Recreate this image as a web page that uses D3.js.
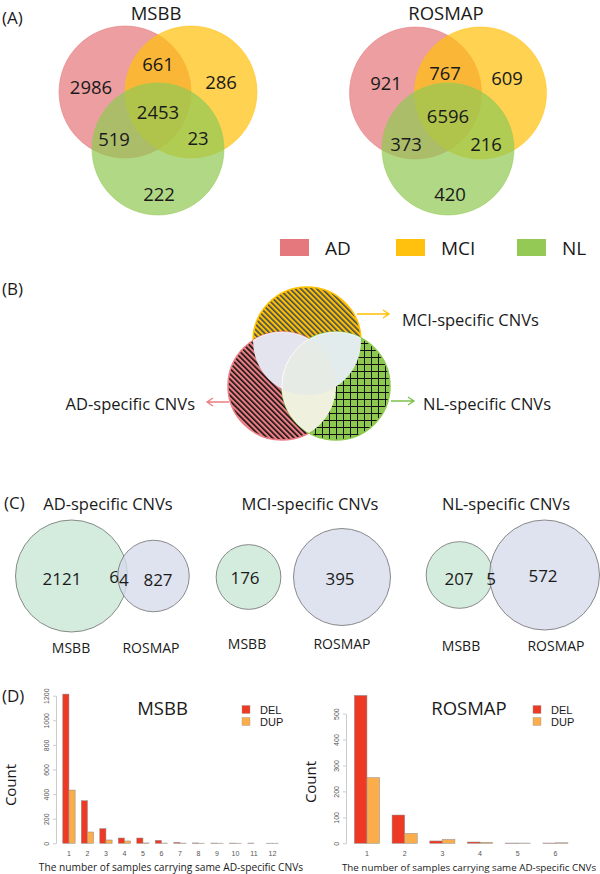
<!DOCTYPE html>
<html><head><meta charset="utf-8">
<script src="https://cdn.jsdelivr.net/npm/d3@7"></script>
<style>body{margin:0;background:#fff}svg{display:block}</style>
</head><body>
<svg id="c" width="600" height="874"></svg>
<script>
// ---------------- DATA ----------------
const vennGroups = ["AD", "MCI", "NL"];
const groupColors = ["#E5787C", "#FFC10E", "#93C954"];
const vennRegions = ["AD", "MCI", "NL", "AD&MCI", "AD&NL", "MCI&NL", "AD&MCI&NL"];
const msbbVenn = [2986, 286, 222, 661, 519, 23, 2453];
const rosmapVenn = [921, 609, 420, 767, 373, 216, 6596];

const specificTitles = ["AD-specific CNVs", "MCI-specific CNVs", "NL-specific CNVs"];
const cohorts = ["MSBB", "ROSMAP"];
const msbbSpecificOnly = [2121, 176, 207];
const sharedSpecific = [64, 0, 5];
const rosmapSpecificOnly = [827, 395, 572];

const cnvTypes = ["DEL", "DUP"];
const cnvColors = ["#EE3A24", "#FBAD4B"];
const msbbSampleCounts = ["1","2","3","4","5","6","7","8","9","10","11","12"];
const msbbDel = [1213, 346, 119, 43, 43, 24, 7, 3, 2, 2, 2, 1];
const msbbDup = [433, 92, 27, 19, 3, 2, 2, 1, 1, 1, 0, 1];
const msbbTicks = [0, 200, 400, 600, 800, 1000, 1200];
const rosmapSampleCounts = ["1","2","3","4","5","6"];
const rosmapDel = [570, 109, 9, 5, 1, 1];
const rosmapDup = [253, 38, 15, 4, 1, 2];
const rosmapTicks = [0, 100, 200, 300, 400, 500];
const xAxisTitle = "The number of samples carrying same AD-specific CNVs";

// ---------------- LAYOUT ----------------
const svg = d3.select("#c");
const SANS = "'Open Sans', 'Noto Sans', sans-serif";
const RFONT = "'Liberation Sans', Arial, sans-serif";

function txt(g, x, y, s, size, opts = {}) {
  return g.append("text").attr("x", x).attr("y", y)
    .attr("font-family", opts.family || SANS).attr("font-size", size)
    .attr("fill", opts.fill || "#1a1a1a")
    .attr("text-anchor", opts.anchor || "middle")
    .attr("dominant-baseline", "central")
    .text(s);
}

// panel labels
txt(svg, 2, 17, "(A)", 17, {anchor: "start"});
txt(svg, 2, 288, "(B)", 17, {anchor: "start"});
txt(svg, 4, 502, "(C)", 17, {anchor: "start"});
txt(svg, 2, 695, "(D)", 17, {anchor: "start"});

// ---------- Panel A: 3-set Venns ----------
const vennLayouts = [
  {title: "MSBB", values: msbbVenn, cx: 158, cy: 120, titleY: 12,
   circles: [[-33, -28], [33, -28], [0, 29]],
   labels: [[-67, -34], [63, -39], [1, 73], [0, -57], [-44, 18], [40, 17], [0, -9]]},
  {title: "ROSMAP", values: rosmapVenn, cx: 448, cy: 121, titleY: 12,
   circles: [[-32.5, -28], [32.5, -28], [0, 28]],
   labels: [[-62, -39], [59, -44], [2, 72], [-3, -49], [-42, 22], [38, 22], [0, -6]]}
];
const vennR = 66;
vennLayouts.forEach(L => {
  const g = svg.append("g");
  txt(g, L.cx - 2, L.titleY, L.title, 18.5);
  vennGroups.forEach((name, i) => {
    g.append("circle").attr("cx", L.cx + L.circles[i][0]).attr("cy", L.cy + L.circles[i][1])
      .attr("r", vennR).attr("fill", groupColors[i]).attr("fill-opacity", 0.72)
      .attr("stroke", groupColors[i]).attr("stroke-opacity", 0.5).attr("stroke-width", 1);
  });
  vennRegions.forEach((reg, i) => {
    txt(g, L.cx + L.labels[i][0], L.cy + L.labels[i][1], L.values[i], 18.5);
  });
});
// legend
const legX = [280, 396, 517];
vennGroups.forEach((name, i) => {
  svg.append("rect").attr("x", legX[i]).attr("y", 239).attr("width", 29).attr("height", 17)
    .attr("fill", groupColors[i]);
  txt(svg, legX[i] + 45, 248, name, 19, {anchor: "start"});
});

// ---------- Panel B: schematic ----------
const defs = svg.append("defs");
function hatch(id, bg, line, w, spacing, angle) {
  const p = defs.append("pattern").attr("id", id).attr("patternUnits", "userSpaceOnUse")
    .attr("width", spacing).attr("height", spacing)
    .attr("patternTransform", `rotate(${angle})`);
  p.append("rect").attr("width", spacing).attr("height", spacing).attr("fill", bg);
  p.append("rect").attr("x", 0).attr("y", 0).attr("width", w).attr("height", spacing).attr("fill", line);
}
hatch("hatchMCI", "#FFC000", "#3E4A5C", 1.6, 3.8, -45);
hatch("hatchAD", "#EC7E84", "#111", 1.6, 3.8, -45);
const grid = defs.append("pattern").attr("id", "gridNL").attr("patternUnits", "userSpaceOnUse")
  .attr("width", 7).attr("height", 7);
grid.append("rect").attr("width", 7).attr("height", 7).attr("fill", "#8CC94E");
grid.append("rect").attr("x", 0).attr("y", 0).attr("width", 7).attr("height", 1).attr("fill", "#111");
grid.append("rect").attr("x", 0).attr("y", 0).attr("width", 1).attr("height", 7).attr("fill", "#111");

const bR = 54;
const bC = {MCI: [307, 341], AD: [282, 386], NL: [336, 386]};
const bFill = {MCI: "url(#hatchMCI)", AD: "url(#hatchAD)", NL: "url(#gridNL)"};
const bStroke = {MCI: "#FFC000", AD: "#EC7E84", NL: "#8CC94E"};
const gB = svg.append("g");
["MCI", "AD", "NL"].forEach(k => {
  gB.append("circle").attr("cx", bC[k][0]).attr("cy", bC[k][1]).attr("r", bR)
    .attr("fill", bFill[k]).attr("stroke", bStroke[k]).attr("stroke-width", 1.5);
});
["MCI", "AD", "NL"].forEach(k => {
  defs.append("clipPath").attr("id", "clip" + k).append("circle")
    .attr("cx", bC[k][0]).attr("cy", bC[k][1]).attr("r", bR);
});
function lens(clipKeys, drawKey, fill) {
  let g = gB;
  clipKeys.forEach(k => { g = g.append("g").attr("clip-path", `url(#clip${k})`); });
  g.append("circle").attr("cx", bC[drawKey][0]).attr("cy", bC[drawKey][1]).attr("r", bR)
    .attr("fill", fill).attr("stroke", "#fff").attr("stroke-width", 1).attr("stroke-opacity", 0.6);
}
lens(["MCI"], "AD", "#E4E4EE");
lens(["MCI"], "NL", "#E3ECEC");
lens(["AD"], "NL", "#EFF0DD");
lens(["MCI", "AD"], "NL", "#E6EBE6");

function arrow(x1, y, x2, color) {
  const dir = Math.sign(x2 - x1);
  gB.append("path").attr("d", `M${x1},${y}H${x2}M${x2 - dir * 6},${y - 4}L${x2},${y}L${x2 - dir * 6},${y + 4}`)
    .attr("fill", "none").attr("stroke", color).attr("stroke-width", 1.3);
}
arrow(357, 314, 389, "#FFC000");
arrow(229, 402, 207, "#EC7E84");
arrow(391, 401, 414, "#7DC04A");
txt(gB, 402, 319, "MCI-specific CNVs", 16.5, {anchor: "start"});
txt(gB, 195, 403, "AD-specific CNVs", 16.5, {anchor: "end"});
txt(gB, 423, 403, "NL-specific CNVs", 16.5, {anchor: "start"});

// ---------- Panel C: 2-set Venns ----------
const cLayouts = [
  {tx: 108, c1: [71.5, 576], c2: [153.5, 576], rMax: 56,
   l1: [62, 578], l12: [119, 577], l2: [158, 579], n1: [71, 647], n2: [151, 647]},
  {tx: 310, c1: [248.5, 577], c2: [342, 577], rMax: 48.5,
   l1: [245, 577], l12: null, l2: [340, 578], n1: [247, 643], n2: [342, 643]},
  {tx: 506, c1: [459.5, 575], c2: [544.5, 575], rMax: 55,
   l1: [459, 578], l12: [491, 578], l2: [543, 575], n1: [461, 645], n2: [556, 645]}
];
specificTitles.forEach((title, i) => {
  const L = cLayouts[i];
  const g = svg.append("g");
  const tot1 = msbbSpecificOnly[i] + sharedSpecific[i];
  const tot2 = rosmapSpecificOnly[i] + sharedSpecific[i];
  const r = d3.scaleSqrt().domain([0, Math.max(tot1, tot2)]).range([0, L.rMax]);
  txt(g, L.tx, 503, title, 16.5);
  g.append("circle").attr("cx", L.c1[0]).attr("cy", L.c1[1]).attr("r", r(tot1))
    .attr("fill", "#CDE9D8").attr("fill-opacity", 0.85).attr("stroke", "#6f6f6f").attr("stroke-width", 0.8);
  g.append("circle").attr("cx", L.c2[0]).attr("cy", L.c2[1]).attr("r", r(tot2))
    .attr("fill", "#D6DCEB").attr("fill-opacity", 0.8).attr("stroke", "#6f6f6f").attr("stroke-width", 0.8);
  txt(g, L.l1[0], L.l1[1], msbbSpecificOnly[i], 17);
  txt(g, L.l2[0], L.l2[1], rosmapSpecificOnly[i], 17);
  if (L.l12 && sharedSpecific[i] > 0) {
    const s = String(sharedSpecific[i]);
    const t = g.append("text").attr("x", L.l12[0]).attr("y", L.l12[1])
      .attr("font-family", SANS).attr("font-size", 17).attr("fill", "#1a1a1a")
      .attr("text-anchor", "middle").attr("dominant-baseline", "central");
    if (s.length > 1) {
      t.append("tspan").attr("dy", -1.5).text(s[0]);
      t.append("tspan").attr("dy", 3.5).text(s.slice(1));
    } else t.text(s);
  }
  txt(g, L.n1[0], L.n1[1], cohorts[0], 14);
  txt(g, L.n2[0], L.n2[1], cohorts[1], 14);
});

// ---------- Panel D: bar charts ----------
const dLayouts = [
  {title: "MSBB", cats: msbbSampleCounts, del: msbbDel, dup: msbbDup, ticks: msbbTicks,
   band: [59.7, 281.7], yMax: 1200, yTop: 695.7, axisX: 56, titleX: 162.5, countX: 10, countY: 785,
   legX: 242, xTitle: 171, xTitleSize: 10.2},
  {title: "ROSMAP", cats: rosmapSampleCounts, del: rosmapDel, dup: rosmapDup, ticks: rosmapTicks,
   band: [348.1, 574.3], yMax: 500, yTop: 713.6, axisX: 346, titleX: 469, countX: 310, countY: 782,
   legX: 533, xTitle: 469, xTitleSize: 9.8}
];
const base = 843.3;
dLayouts.forEach(L => {
  const g = svg.append("g");
  const x = d3.scaleBand().domain(L.cats).range(L.band).paddingInner(1 / 3).paddingOuter(1 / 6);
  const xs = d3.scaleBand().domain(cnvTypes).range([0, x.bandwidth()]);
  const y = d3.scaleLinear().domain([0, L.yMax]).range([base, L.yTop]);
  const rows = L.cats.map((c, i) => ({cat: c, vals: [L.del[i], L.dup[i]]}));
  const grp = g.selectAll("g.grp").data(rows).enter().append("g")
    .attr("transform", d => `translate(${x(d.cat)},0)`);
  grp.selectAll("rect").data(d => d.vals.map((v, j) => ({v, j}))).enter().append("rect")
    .attr("x", d => xs(cnvTypes[d.j])).attr("width", xs.bandwidth())
    .attr("y", d => y(d.v)).attr("height", d => base - y(d.v))
    .attr("fill", d => cnvColors[d.j]).attr("stroke", "#8a8a8a").attr("stroke-width", 0.5);

  // y axis
  const ya = g.append("g").attr("transform", `translate(${L.axisX},0)`)
    .call(d3.axisLeft(y).tickValues(L.ticks).tickFormat(d3.format("d")).tickSize(3).tickSizeOuter(0));
  ya.select(".domain").attr("stroke", "#aaa").attr("stroke-width", 0.6);
  ya.selectAll(".tick line").attr("stroke", "#aaa").attr("stroke-width", 0.6);
  ya.selectAll(".tick text").attr("font-family", RFONT).attr("font-size", 7).attr("fill", "#555")
    .attr("text-anchor", "middle").attr("x", 0).attr("dy", 0)
    .attr("transform", "translate(-7,0) rotate(-90)");
  // x labels
  const xa = g.append("g").attr("transform", `translate(0,${base})`)
    .call(d3.axisBottom(x).tickSize(0));
  xa.select(".domain").remove();
  xa.selectAll(".tick text").attr("font-family", RFONT).attr("font-size", 7).attr("fill", "#555")
    .attr("dy", 0).attr("y", 10).attr("dominant-baseline", "central");

  txt(g, L.titleX, 707, L.title, 18.5);
  txt(g, 0, 0, "Count", 15).attr("transform", `translate(${L.countX},${L.countY}) rotate(-90)`);
  txt(g, L.xTitle, 867, xAxisTitle, L.xTitleSize);
  cnvTypes.forEach((t, j) => {
    g.append("rect").attr("x", L.legX).attr("y", 705.5 + j * 12).attr("width", 8).attr("height", 8)
      .attr("fill", cnvColors[j]).attr("stroke", "#999").attr("stroke-width", 0.4);
    txt(g, L.legX + 18, 709.5 + j * 12, t, 11, {anchor: "start", family: RFONT});
  });
});
</script>
</body></html>
